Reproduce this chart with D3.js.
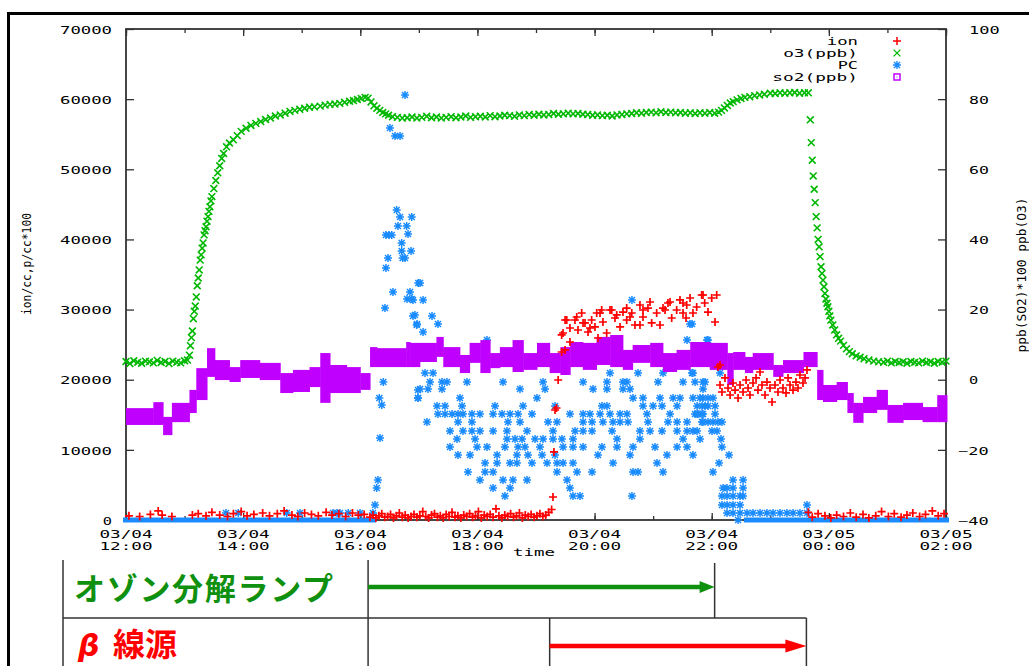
<!DOCTYPE html>
<html>
<head>
<meta charset="utf-8">
<script src="https://cdn.jsdelivr.net/npm/d3@7/dist/d3.min.js"></script>
<style>
  body { margin: 0; background: #fff; }
  text.mono { font-family: "DejaVu Sans Mono", monospace; font-size: 10.5px; fill: #000; }
</style>
</head>
<body>
<svg id="chart" width="1029" height="666"></svg>
<script>
/* readings, minutes after 03/04 12:00 */
var startTime = new Date(2000, 2, 4, 12, 0)
var endMin = 840

var leftTicks = [0, 10000, 20000, 30000, 40000, 50000, 60000, 70000]
var rightTicks = [-40, -20, 0, 20, 40, 60, 80, 100]
var seriesNames = ["ion", "o3(ppb)", "PC", "so2(ppb)"]

/* o3 [min, ppb] (right axis) */
var o3Data = [[0,5.2],[4,4.6],[8,5.4],[12,5.0],[16,4.7],[20,5.3],[24,5.1],[28,4.8],[32,5.5],[36,4.9],[40,5.2],[44,4.6],[48,5.3],[52,5.0],[56,4.8],[60,5.4],[63,5.6],
  [65,7.0],[66,9.7],[67,12.0],[68,13.9],[69,17.4],[70,19.5],[71,21.0],[72,23.6],[73,26.8],[74,29.0],[75,31.3],[76,34.1],[77,35.6],[78,37.5],[79,39.0],[80,41.3],[81,42.5],[82,43.6],[83,45.2],[84,46.5],[85,48.0],[86,49.3],[87,51.0],[88,52.2],[90,54.5],[92,56.8],[94,59.0],[96,61.0],[98,63.1],[100,64.5],[103,66.4],[106,67.5],[110,68.4],[114,69.6],[118,70.8],[123,71.7],[128,72.5],[133,73.1],[138,73.6],[143,74.2],[148,74.6],[153,75.2],[158,75.5],[163,76.0],[168,76.5],[173,76.8],[178,77.1],[183,77.4],[188,77.7],[193,77.8],[199,78.0],[204,78.3],[209,78.5],[214,78.6],[219,78.8],[224,79.1],[229,79.4],[233,79.6],[237,79.9],[241,80.2],[245,80.5],[248,80.3],[251,79.2],[254,78.1],[257,77.4],[260,76.8],[263,76.2],[266,75.8],[269,75.4],[273,75.0],[278,74.8],[283,74.6],[288,74.7],
  [293,74.9],[298,74.6],[303,74.8],[308,75.1],[313,74.7],[318,74.9],[323,74.6],[328,74.8],[333,75.0],[338,74.7],[343,74.9],[348,75.2],[353,74.8],[358,75.0],[363,75.1],[368,74.9],[373,75.3],[378,75.0],[383,75.2],[388,75.4],[393,75.3],[398,75.1],[403,75.5],[408,75.3],[413,75.6],[418,75.4],[423,75.7],[428,75.5],[433,75.6],[438,75.9],[443,75.7],[448,75.8],[453,76.0],[458,75.8],[463,75.9],[468,75.7],[473,75.6],[478,75.4],[483,75.5],[488,75.3],[493,75.4],[498,75.2],[503,75.5],[508,75.6],[513,75.8],[518,75.9],[523,76.1],[528,76.0],[533,76.2],[538,76.3],[543,76.1],[548,76.4],[553,76.2],[558,76.3],[563,76.1],[568,76.2],[573,76.0],[578,76.1],[583,75.9],[588,76.1],[593,76.0],[598,76.2],[603,76.0],[607,76.3],
  [610,76.8],[613,77.5],[616,78.2],[619,78.9],[622,79.3],[626,79.8],[630,80.2],[634,80.5],[639,80.7],[644,81.0],[649,81.2],[654,81.4],[660,81.7],[665,81.6],[670,81.8],[675,81.7],[680,81.8],[685,81.9],[690,81.7],[695,81.8],[699,81.8],
  [701,74.1],[702,67.6],[703,62.6],[704,58.1],[705,54.3],[706,50.5],[707,46.5],[708,43.3],[709,40.0],[710,37.9],[711,35.1],[712,32.2],[713,30.3],[714,28.4],[715,26.5],[716,24.6],[717,23.0],[718,21.8],[719,20.8],[720,19.5],[721,18.2],[722,17.0],[724,15.6],[726,14.2],[728,12.8],[730,11.8],[732,11.0],[735,9.8],[738,8.8],[741,8.0],[744,7.4],[748,6.8],[752,6.4],[756,6.0],[761,5.6],[766,5.3],[771,5.1],
  [776,5.0],[780,5.3],[784,4.8],[788,5.2],[792,4.9],[796,5.1],[800,4.7],[804,5.2],[808,5.0],[812,4.8],[816,5.3],[820,4.9],[824,5.1],[828,4.7],[832,5.2],[836,5.0],[840,5.3]]

/* so2 band: step start (min), upper and lower reading (right axis) */
var so2Start = [0,28,38,47,65,72,83,91,106,117,137,158,171,188,199,209,226,240,250,257,287,291,301,318,325,342,352,363,373,383,396,407,421,434,445,455,468,482,496,509,519,537,550,564,578,598,616,622,634,642,663,673,694,708,714,728,739,745,755,769,780,796,816,831]
var so2Hi = [-8.1,-6.4,-10.6,-6.6,-2.9,3.3,9.0,5.6,3.6,5.6,4.8,1.9,2.8,3.6,7.6,4.2,3.6,1.9,9.3,9.0,10.75,10.5,10.5,12.2,9.3,7.05,10.5,11.3,7.6,9.3,11.3,7.6,10.5,7.6,9.3,10.75,10.5,12.2,12.75,8.5,9.9,10.5,7.6,8.5,10.75,10.5,7.6,7.9,6.5,7.6,4.2,5.6,7.9,2.8,-1.5,-0.65,-3.8,-6.6,-4.9,-2.9,-7.2,-6.6,-7.8,-4.4]
var so2Lo = [-12.9,-12.9,-15.8,-12.1,-9.5,-5.8,0.8,-0.1,-0.65,0.5,-0.1,-3.8,-3.5,-2.1,-6.6,-3.8,-3.8,-2.9,3.6,3.6,3.6,3.6,5.05,6.5,3.6,1.9,4.8,1.9,3.3,3.6,2.2,2.8,3.6,1.9,1.35,3.6,2.8,4.2,3.6,2.8,4.8,3.6,2.2,2.8,3.6,2.8,-1.5,2.8,1.9,2.8,0.8,1.9,3.6,-5.8,-6.35,-5.8,-9.5,-12.3,-9.5,-8.6,-12.3,-11.5,-12.1,-12.1]

/* ion [min, ion/cc] (left axis) */
var ionData = [[3,600],[14,500],[25,800],[33,1300],[37,700],[47,500],[68,700],[74,900],[82,600],[88,1100],[96,700],[104,500],[110,900],[118,1200],[124,600],[131,800],[140,1000],[147,600],[155,900],[162,1300],[170,700],[176,500],[183,1000],[190,800],[197,600],[205,1100],[211,700],[218,900],[225,500],[232,1000],[238,700],[244,800],
  [250,400],[253,700],[256,300],[259,600],[262,900],[265,400],[268,500],[271,800],[274,300],[277,600],[280,1000],[283,400],[286,700],[289,300],[292,500],[295,800],[298,400],[301,600],[304,1200],[307,500],[310,300],[313,700],[316,900],[319,400],[322,600],[325,300],[328,800],[331,500],[334,1100],[337,400],[340,600],[343,300],[346,700],[349,500],[352,900],[355,400],[358,600],[361,1200],[364,300],[367,700],[370,500],[373,800],[376,400],[379,1600],[382,600],[385,300],[388,700],[391,500],[394,900],[397,400],[400,600],[403,1000],[406,300],[409,700],[412,500],[415,800],[418,400],[421,600],[424,900],[427,500],[430,700],[433,1100],[436,1500],
  [437.4,3280],[438.4,9700],[439.5,15680],[441,15970],[442.7,19960],[446.3,23950],[447.7,26660],[449.8,24240],[446.3,26380],[449.8,28510],[451.5,28510],[454.8,25380],[454.8,27370],[459.9,28510],[461.7,28940],[463,27090],[466.8,29510],[468.2,28090],[470.2,28090],[473.3,26800],[475.3,27370],[477,28510],[480.4,27520],[482.2,29510],[483.5,25950],[485.6,29510],[487.3,29940],[488.6,28230],[492.4,26660],[495.8,29940],[497.6,29940],[500.9,28800],[502.7,29230],[506.1,27520],[509.1,29650],[512.9,28510],[512.9,30220],[516.3,28940],[518.1,29510],[521.4,27800],[526.5,30650],[526.5,27800],[529.6,28940],[529.6,29940],[534.7,30220],[536.8,31080],[538.5,28090],[543.6,29510],[547,27800],[550.1,30220],[552.2,29940],[555.2,30940],[557.3,31080],[559,28800],[564.1,29940],[567.5,31370],[570.6,29510],[570.6,30940],[573.7,28800],[574.4,30650],[577.8,31650],[580.8,29510],[584.6,30370],[589.7,32080],[591.1,32080],[592.8,30940],[596.2,29650],[600,31650],[603.4,28230],[605.1,32080],
  [606.4,21810],[608.5,19250],[608.5,22100],[610.5,18250],[613.6,20250],[616.7,18820],[618.8,17820],[621.8,19530],[623.9,18530],[627,17390],[629,19250],[632.1,18250],[635.2,19960],[637.2,18820],[639.2,17820],[642.3,19530],[645.4,20250],[647.4,18530],[649.5,21100],[651.5,19250],[654.6,17820],[656.6,19670],[659.7,18820],[661.8,16820],[664.8,19250],[667.9,18250],[670,19960],[673,18820],[676.1,18110],[678.2,20250],[680.2,19250],[683.3,18530],[686.3,19670],[688.4,18820],[690.4,20670],[693.5,19530],[695.6,20250],[697.6,21390],
  [699,1100],[703,400],[709,900],[716,600],[722,300],[728,700],[735,500],[742,1000],[748,400],[755,800],[761,300],[768,600],[774,1200],[781,500],[787,900],[794,400],[800,700],[806,1000],[813,500],[819,800],[826,1300],[832,600],[838,900]]

/* PC: runs where every reading is 0 (start, end min) */
var pcZeroRuns = [[0, 253], [636, 840]]
/* PC peak after 16:00 [min, p/cc*100] */
var pcPeak = [[253,1000],[255.1,2140],[256.8,4560],[258.1,5700],[259.5,17390],[260.2,11690],[262,16400],[263.6,19670],[265.3,30220],[266.3,35930],[266.3,40630],[268.4,37350],[269.4,40630],[270.4,55890],[272.2,40630],[273.5,32500],[275.6,54750],[277.3,44200],[278.6,41920],[280.7,43200],[280.7,54750],[282.4,39490],[282.4,38350],[283.4,37350],[285.8,60590],[285.8,37350],[287.5,41920],[287.9,31510],[288.9,40780],[290.9,32500],[292,38350],[292.7,43200],[292.7,31510],[296,29230],[297.8,27800],[299.1,18530],[299.1,17390],[299.4,33790],[301.2,33790]]
/* PC scatter, grouped by reading level: [value, [minutes]] */
var pcRows = [
  [31370, [294, 304.3, 518.3]],
  [29080, [294, 313.5]],
  [27940, [298.1, 319.6, 577.8, 579.8]],
  [26800, [304.3]],
  [25660, [369.8, 574.7, 595.2, 596.2]],
  [20960, [306.3, 314.5, 495.8, 524.5, 550.1, 579.8, 580.8, 608.5]],
  [19670, [311.4, 323.7, 328.8, 349.3, 386.2, 427.2, 468.2, 492.7, 509.1, 513.2, 545, 570.6, 582.9, 591.1, 593.1]],
  [18680, [301.2, 309.4, 323.7, 403.6, 429.2, 478.4, 492.7, 509.1, 516.3, 591.1]],
  [17390, [299.1, 342.1, 421, 519.4, 529.6, 547, 560.4, 567.5, 580.8, 588, 591.1, 596.2, 601.3]],
  [16250, [318.6, 326.8, 344.2, 378, 406.7, 439.5, 487.6, 492.7, 529.6, 539.9, 549.1, 564.5, 585, 590.1, 593.1, 596.2, 603.4]],
  [15110, [319.6, 326.8, 334, 340.1, 345.2, 354.4, 362.6, 376, 385.2, 393.4, 401.6, 415.9, 454.8, 468.2, 475.3, 485.6, 495.8, 506.1, 513.2, 533.7, 557.3, 582.9, 585, 586, 590.1, 591.1, 603.4]],
  [13970, [308.3, 340.1, 354.4, 391.3, 403.6, 432.3, 441.5, 468.2, 477.4, 488.6, 498.9, 506.1, 514.2, 534.7, 555.2, 564.5, 574.7, 590.1, 591.1, 596.2, 601.3, 606.4, 610.5]],
  [12690, [331.9, 345.2, 354.4, 362.6, 376, 390.3, 410.8, 437.4, 460, 468.2, 477.4, 497.9, 526.5, 536.8, 549.1, 564.5, 574.7, 580.8, 585, 600.3, 605.4]],
  [11550, [339.1, 357.6, 390.3, 398.5, 405.7, 419, 427.2, 437.4, 446.6, 457.9, 503, 526.5, 570.6, 588, 609.5]],
  [10410, [331.9, 359.6, 369.8, 388.2, 401.6, 408.7, 424.1, 447.7, 457.9, 468.2, 487.6, 503, 519.4, 541.9, 564.5, 574.7, 610.5]],
  [9270, [340.1, 352.4, 380.1, 400.5, 411.8, 426.2, 439.5, 483.5, 516.3, 554.2, 580.8, 617.7]],
  [8130, [367.8, 380.1, 393.4, 400.5, 415.9, 431.3, 441.5, 447.7, 457.9, 498.9, 544, 607.5]],
  [6840, [350.3, 367.8, 376, 441.5, 462, 477.4, 519.4, 524.5, 550.1, 601.3]],
  [5700, [362.6, 386.2, 396.4, 410.8, 451.8, 621.8, 632.1]],
  [4560, [376, 393.4, 454.8, 611.6, 615.7, 621.8, 632.1]],
  [3420, [388.2, 457.9, 465.1, 518.3, 610.5, 615.7, 621.8, 629, 632.1]],
  [2140, [610.5, 615.7, 621.8, 629, 697.6]],
  [1000, [102.4, 115, 164.6, 178.2, 212.1, 216.2, 219.2, 227.7, 239.7, 615.7, 621.8, 629, 636.2, 642.3, 649.5, 656.6, 662.8, 670, 677.1, 683.3, 690.4, 697.6]],
  [0, [627]]
]

/* lamp / beta source switching times (min) */
var lampOn = 248, lampOff = 603
var betaOn = 434, betaOff = 697

var colors = { ion: "#ff0000", o3: "#00b800", pc: "#1a8cff", so2: "#c000ff" }

function at(min) { return new Date(startTime.getTime() + min * 60000) }

var svg = d3.select("#chart")
svg.append("rect").attr("width", 1029).attr("height", 666).attr("fill", "#fff")

var x = d3.scaleTime().domain([at(0), at(endMin)]).range([126, 946])
var yL = d3.scaleLinear().domain([0, 70000]).range([520, 29])
var yR = d3.scaleLinear().domain([-40, 100]).range([520, 29])

/* gnuplot style point symbols */
var sym = {
  plus: "M-4,0H4M0,-4V4",
  cross: "M-3.4,-3.4L3.4,3.4M-3.4,3.4L3.4,-3.4",
  star: "M-4,0H4M0,-4V4M-3,-3L3,3M-3,3L3,-3"
}

function monoLabel(g, str, px, py, anchor, w) {
  return g.append("text").attr("class", "mono")
    .attr("x", px).attr("y", py)
    .attr("text-anchor", anchor)
    .attr("textLength", w).attr("lengthAdjust", "spacingAndGlyphs")
    .text(str)
}

/* outer frame */
svg.append("line").attr("x1", 7).attr("x2", 1029).attr("y1", 13.5).attr("y2", 13.5)
  .attr("stroke", "#000").attr("stroke-width", 3)
svg.append("line").attr("x1", 8.5).attr("x2", 8.5).attr("y1", 12).attr("y2", 666)
  .attr("stroke", "#000").attr("stroke-width", 3)

/* axes with inward ticks */
var gL = svg.append("g").attr("transform", "translate(126,0)")
  .call(d3.axisLeft(yL).tickValues(leftTicks).tickSize(-8).tickPadding(14).tickFormat(d3.format("d")))
var gR = svg.append("g").attr("transform", "translate(946,0)")
  .call(d3.axisRight(yR).tickValues(rightTicks).tickSize(-8).tickFormat(d3.format("d")))
var gB = svg.append("g").attr("transform", "translate(0,520)")
  .call(d3.axisBottom(x).ticks(d3.timeHour.every(2)).tickSize(-7).tickFormat(""))
var gBm = svg.append("g").attr("transform", "translate(0,520)")
  .call(d3.axisBottom(x).ticks(d3.timeHour.every(1)).tickSize(-4).tickFormat(""))
var gT = svg.append("g").attr("transform", "translate(0,29)")
  .call(d3.axisTop(x).ticks(d3.timeHour.every(2)).tickSize(-7).tickFormat(""))
var gTm = svg.append("g").attr("transform", "translate(0,29)")
  .call(d3.axisTop(x).ticks(d3.timeHour.every(1)).tickSize(-4).tickFormat(""))

;[gL, gR, gB, gBm, gT, gTm].forEach(function(g) {
  g.select(".domain").remove()
  g.selectAll("line").attr("stroke", "#333").attr("stroke-width", 1.3)
})

gL.selectAll("text").attr("class", "mono").attr("dy", "0.4em")
  .attr("textLength", function(d) { return String(d).length * 10.7 - 1.5 })
  .attr("lengthAdjust", "spacingAndGlyphs")
gR.selectAll("text").attr("class", "mono").attr("dy", "0.4em")
  .attr("x", function(d) { return d < 0 ? 12 : 23 })
  .attr("textLength", function(d) { return String(d).length * 10.7 - 1.5 })
  .attr("lengthAdjust", "spacingAndGlyphs")

/* two-line time labels */
var xLabels = svg.append("g")
x.ticks(d3.timeHour.every(2)).forEach(function(t) {
  monoLabel(xLabels, d3.timeFormat("%m/%d")(t), x(t), 537.5, "middle", 53)
  monoLabel(xLabels, d3.timeFormat("%H:%M")(t), x(t), 550, "middle", 53)
})
monoLabel(svg, "time", 534, 556, "middle", 42)

/* axis titles */
monoLabel(svg, "ion/cc,p/cc*100", 0, 0, "middle", 102)
  .attr("font-size", 11.5).style("font-size", "11.5px")
  .attr("transform", "translate(31,264) rotate(-90)")
monoLabel(svg, "ppb(SO2)*100 ppb(O3)", 0, 0, "middle", 155)
  .style("font-size", "11.5px")
  .attr("transform", "translate(1026,275) rotate(-90)")

/* plot border */
svg.append("rect").attr("x", 126).attr("y", 29).attr("width", 820).attr("height", 491)
  .attr("fill", "none").attr("stroke", "#333").attr("stroke-width", 1.8)

/* o3 points */
svg.append("g").selectAll("path").data(o3Data).join("path")
  .attr("transform", function(d) { return "translate(" + x(at(d[0])) + "," + yR(d[1]) + ")" })
  .attr("d", sym.cross)
  .attr("fill", "none").attr("stroke", colors.o3).attr("stroke-width", 1.6)

/* PC: zero runs drawn as a dense row of points at 0 */
svg.append("g").selectAll("rect").data(pcZeroRuns).join("rect")
  .attr("x", function(d) { return x(at(d[0])) - 3 })
  .attr("width", function(d) { return x(at(d[1])) - x(at(d[0])) + 6 })
  .attr("y", yL(0) - 2.5).attr("height", 5)
  .attr("fill", colors.pc)

var pcPoints = pcPeak.slice()
pcRows.forEach(function(row) {
  row[1].forEach(function(m) { pcPoints.push([m, row[0]]) })
})
svg.append("g").selectAll("path").data(pcPoints).join("path")
  .attr("transform", function(d) { return "translate(" + x(at(d[0])) + "," + yL(d[1]) + ")" })
  .attr("d", sym.star)
  .attr("fill", "none").attr("stroke", colors.pc).attr("stroke-width", 1.5)

/* so2 band */
svg.append("g").selectAll("rect").data(so2Start).join("rect")
  .attr("x", function(d) { return x(at(d)) })
  .attr("width", function(d, i) {
    var next = i + 1 < so2Start.length ? so2Start[i + 1] : endMin + 1
    return x(at(next)) - x(at(d)) + 0.5
  })
  .attr("y", function(d, i) { return yR(so2Hi[i]) })
  .attr("height", function(d, i) { return yR(so2Lo[i]) - yR(so2Hi[i]) })
  .attr("fill", colors.so2)

/* ion points */
svg.append("g").selectAll("path").data(ionData).join("path")
  .attr("transform", function(d) { return "translate(" + x(at(d[0])) + "," + yL(d[1]) + ")" })
  .attr("d", sym.plus)
  .attr("fill", "none").attr("stroke", colors.ion).attr("stroke-width", 1.7)

/* legend */
var legend = svg.append("g")
var legendY = [45, 57, 69, 81]
seriesNames.forEach(function(name, i) {
  monoLabel(legend, name, 858, legendY[i], "end", name.length * 10.9 - 1.5)
})
legend.append("path").attr("transform", "translate(897," + (legendY[0] - 4) + ")")
  .attr("d", sym.plus).attr("stroke", colors.ion).attr("stroke-width", 1.5)
legend.append("path").attr("transform", "translate(897," + (legendY[1] - 4) + ")")
  .attr("d", sym.cross).attr("stroke", colors.o3).attr("stroke-width", 1.3)
legend.append("path").attr("transform", "translate(897," + (legendY[2] - 4) + ")")
  .attr("d", sym.star).attr("stroke", colors.pc).attr("stroke-width", 1.4)
legend.append("rect").attr("x", 894).attr("y", legendY[3] - 7).attr("width", 6).attr("height", 6)
  .attr("fill", "none").attr("stroke", colors.so2).attr("stroke-width", 1.5)
legend.append("rect").attr("x", 896.5).attr("y", legendY[3] - 4.5).attr("width", 1).attr("height", 1)
  .attr("fill", colors.so2)

/* switching table under the chart */
var table = svg.append("g").attr("stroke", "#333").attr("stroke-width", 1.5)
var tl = [
  [63, 560, 63, 666],
  [x(at(lampOn)), 560, x(at(lampOn)), 666],
  [x(at(lampOff)), 563, x(at(lampOff)), 618],
  [63, 618, x(at(betaOff)), 618],
  [x(at(betaOn)), 618, x(at(betaOn)), 666],
  [x(at(betaOff)), 618, x(at(betaOff)), 666]
]
table.selectAll("line").data(tl).join("line")
  .attr("x1", function(d) { return d[0] }).attr("y1", function(d) { return d[1] })
  .attr("x2", function(d) { return d[2] }).attr("y2", function(d) { return d[3] })

function arrow(from, to, yy, color, headLen, headHalf) {
  var x1 = x(at(from)), x2 = x(at(to))
  svg.append("line").attr("x1", x1).attr("x2", x2 - headLen + 2).attr("y1", yy).attr("y2", yy)
    .attr("stroke", color).attr("stroke-width", 4.5)
  svg.append("path")
    .attr("d", "M" + x2 + "," + yy + "L" + (x2 - headLen) + "," + (yy - headHalf) +
      "L" + (x2 - headLen) + "," + (yy + headHalf) + "Z")
    .attr("fill", color)
}
arrow(lampOn, lampOff, 587, "#10900f", 15, 6)
arrow(betaOn, betaOff, 646, "#ff0000", 21, 6.5)

svg.append("text").attr("x", 74).attr("y", 600)
  .attr("font-family", "Noto Sans CJK JP").attr("font-weight", "bold").attr("font-size", 31)
  .attr("textLength", 259).attr("lengthAdjust", "spacing")
  .attr("fill", "#10900f").text("オゾン分解ランプ")
svg.append("text").attr("x", 78).attr("y", 656)
  .attr("font-family", "DejaVu Sans").attr("font-style", "italic").attr("font-weight", "bold")
  .attr("font-size", 30).attr("fill", "#ff0000").text("β")
svg.append("text").attr("x", 113).attr("y", 656)
  .attr("font-family", "Noto Sans CJK JP").attr("font-weight", "bold").attr("font-size", 32)
  .attr("fill", "#ff0000").text("線源")
</script>
</body>
</html>
